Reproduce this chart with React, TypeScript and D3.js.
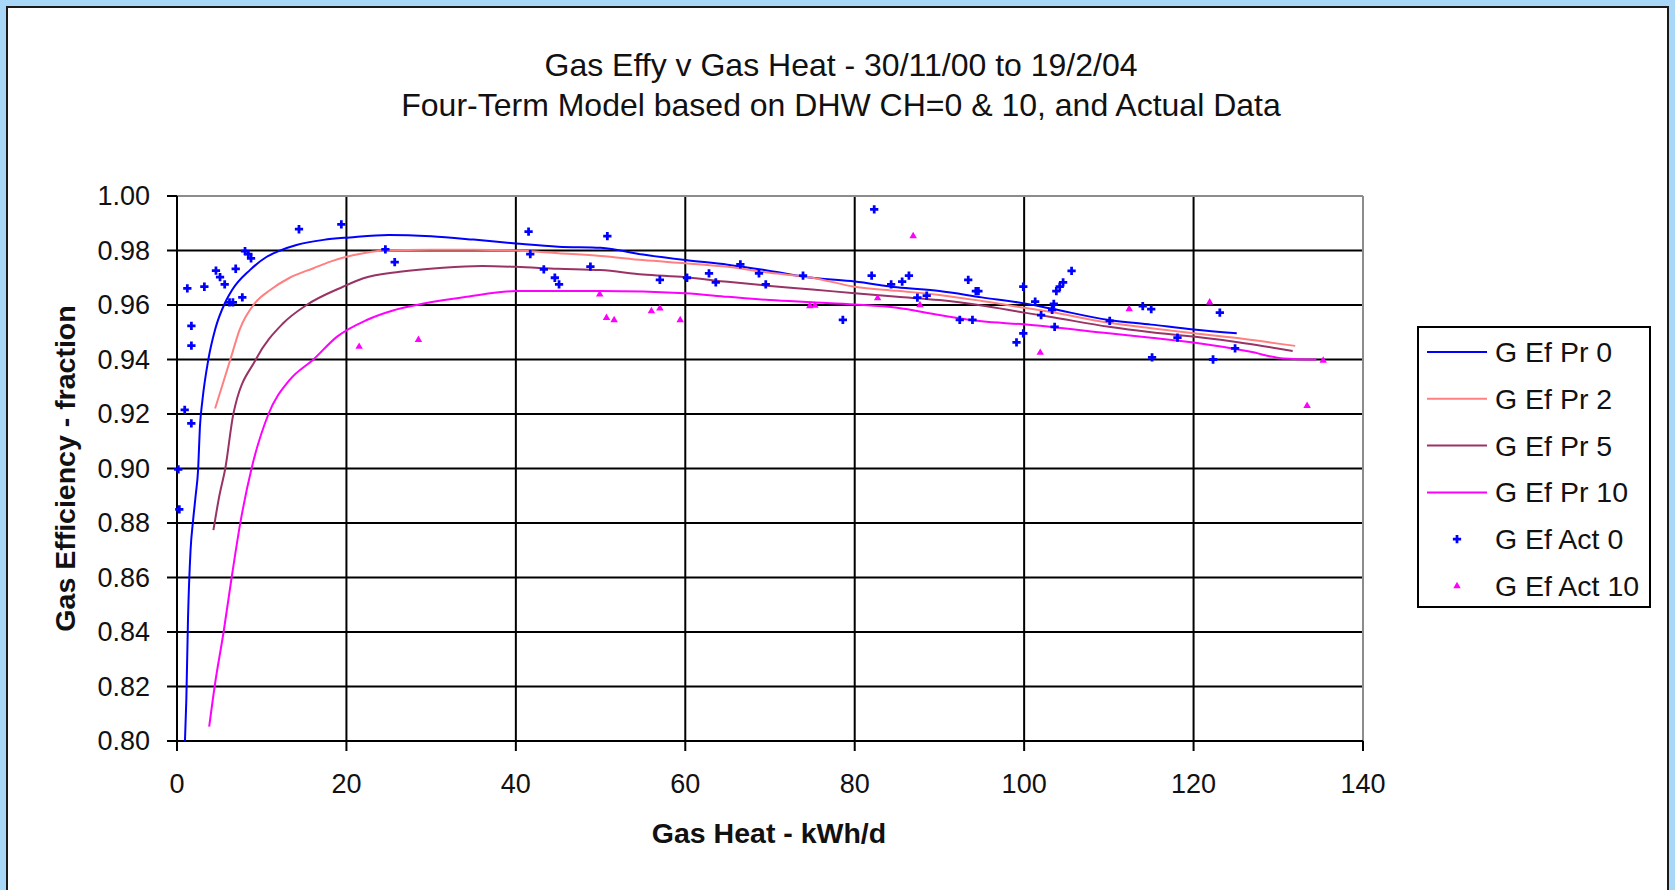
import React from 'react';
import * as d3 from 'd3';

// chart text
const title1 = "Gas Effy v Gas Heat - 30/11/00 to 19/2/04";
const title2 = "Four-Term Model based on DHW CH=0 & 10, and Actual Data";
const xTitle = "Gas Heat - kWh/d";
const yTitle = "Gas Efficiency - fraction";

const xTicks = [0, 20, 40, 60, 80, 100, 120, 140];
const yTicks = [0.8, 0.82, 0.84, 0.86, 0.88, 0.9, 0.92, 0.94, 0.96, 0.98, 1.0];

// model curves [gas heat, efficiency]
const pr0: [number, number][] = [
  [0.94, 0.8], [1.1, 0.815], [1.3, 0.845], [1.6, 0.87], [1.9, 0.881], [2.2, 0.89], [2.5, 0.9],
  [2.7, 0.915], [3.0, 0.925], [3.7, 0.94], [4.5, 0.951], [5.7, 0.961], [6.5, 0.9655], [8.6, 0.9728],
  [10.6, 0.9777], [12.2, 0.98], [14.1, 0.982], [17.3, 0.9839], [20.4, 0.9848], [25, 0.9857],
  [30, 0.9852], [35, 0.984], [40, 0.9826], [45, 0.9814], [50, 0.981], [55, 0.9785], [60, 0.9765],
  [65, 0.9748], [70, 0.9725], [75, 0.97], [80, 0.9686], [85, 0.9665], [90, 0.9651], [95, 0.9628],
  [100, 0.9606], [103, 0.9588], [110, 0.9545], [115, 0.9528], [120, 0.951], [125.1, 0.9496]
];
const pr2: [number, number][] = [
  [4.5, 0.922], [6.3, 0.94], [7.4, 0.951], [9.2, 0.9607], [11, 0.9655], [13.3, 0.97], [16.1, 0.9735],
  [18.1, 0.9759], [20, 0.9777], [22, 0.979], [24.3, 0.98], [30, 0.9803], [35, 0.9803], [40, 0.98],
  [45, 0.979], [50, 0.978], [55, 0.9765], [60, 0.9753], [65, 0.974], [70, 0.9718], [75, 0.97],
  [80, 0.9667], [85, 0.9652], [90, 0.9637], [95, 0.9615], [100, 0.959], [103, 0.9575], [110, 0.9535],
  [115, 0.9515], [120, 0.9496], [126, 0.9475], [132, 0.945]
];
const pr5: [number, number][] = [
  [4.3, 0.8774], [5.0, 0.89], [5.7, 0.9], [6.65, 0.92], [9.3, 0.94], [12.5, 0.9532], [15.3, 0.96],
  [19.6, 0.9667], [22, 0.9698], [26.3, 0.9722], [31.4, 0.9737], [36, 0.9743], [40, 0.974], [45, 0.9733],
  [50, 0.9728], [55, 0.9712], [60, 0.9702], [65, 0.9685], [70, 0.967], [75, 0.9657], [80, 0.9643],
  [85, 0.963], [90, 0.9618], [95, 0.9598], [100, 0.9572], [103, 0.9557], [110, 0.952], [115, 0.95],
  [120, 0.9484], [126, 0.946], [131.7, 0.9431]
];
const pr10: [number, number][] = [
  [3.8, 0.8053], [4.5, 0.8212], [5.5, 0.84], [6.45, 0.86], [7.5, 0.8805], [8.8, 0.9], [10.8, 0.92],
  [13.3, 0.9325], [16.1, 0.94], [18.9, 0.9484], [22.4, 0.9545], [25.5, 0.958], [28.3, 0.96], [34.2, 0.963],
  [40, 0.9651], [50, 0.9651], [60, 0.9643], [65, 0.963], [70, 0.9618], [75, 0.961], [80, 0.9602],
  [85, 0.959], [90, 0.9563], [95, 0.954], [100, 0.9529], [103, 0.952], [110, 0.9496], [115, 0.948],
  [120, 0.9462], [126.6, 0.9429], [130.6, 0.9404], [134.5, 0.94]
];

// actual data points
const act0: [number, number][] = [
  [0.15, 0.8997], [0.27, 0.885], [0.91, 0.9215], [1.69, 0.9166], [1.22, 0.9661], [1.7, 0.9523], [1.7, 0.9451],
  [3.23, 0.9667], [4.6, 0.9726], [5.08, 0.9702], [5.63, 0.9676], [6.2, 0.961], [6.6, 0.961], [6.93, 0.9733],
  [7.71, 0.9628], [8.03, 0.9798], [8.42, 0.9787], [8.74, 0.9771], [14.4, 0.9878], [19.4, 0.9896],
  [24.6, 0.9804], [25.7, 0.9757], [41.5, 0.9869], [41.7, 0.9787], [43.3, 0.9731], [44.6, 0.97], [45.1, 0.9676],
  [48.8, 0.9741], [50.8, 0.9853], [57.0, 0.9692], [60.2, 0.97], [62.8, 0.9716], [63.6, 0.9683], [66.5, 0.9749],
  [68.7, 0.9716], [69.5, 0.9676], [73.9, 0.9708], [78.6, 0.9545], [82.3, 0.9951], [82.0, 0.9708], [84.3, 0.9676],
  [85.6, 0.9686], [86.4, 0.9708], [87.4, 0.9627], [88.5, 0.9634], [93.4, 0.9692], [94.3, 0.9651], [94.6, 0.9651],
  [92.4, 0.9545], [93.9, 0.9545], [99.9, 0.9667], [99.9, 0.9496], [99.1, 0.9463], [101.3, 0.9612], [102.0, 0.9563],
  [103.3, 0.9582], [103.5, 0.9604], [103.6, 0.952], [103.8, 0.9651], [104.2, 0.9667], [104.6, 0.9683],
  [105.6, 0.9725], [110.1, 0.9542], [114.0, 0.9596], [115.0, 0.9585], [115.1, 0.9408], [118.1, 0.948],
  [122.3, 0.94], [123.1, 0.9572], [124.9, 0.9441]
];
const act10: [number, number][] = [
  [21.5, 0.9447], [28.5, 0.9472], [49.9, 0.9639], [50.7, 0.9553], [51.6, 0.9545], [56.0, 0.9578], [57.0, 0.9588],
  [59.4, 0.9545], [74.7, 0.9596], [75.3, 0.9598], [82.7, 0.9625], [86.9, 0.9853], [87.7, 0.96], [101.9, 0.9425],
  [112.4, 0.9585], [121.9, 0.961], [133.4, 0.923], [135.3, 0.9396]
];

const lineSeries = [
  { name: "G Ef Pr 0", color: "#0000ff", data: pr0 },
  { name: "G Ef Pr 2", color: "#ff8080", data: pr2 },
  { name: "G Ef Pr 5", color: "#993366", data: pr5 },
  { name: "G Ef Pr 10", color: "#ff00ff", data: pr10 },
];
const pointSeries = [
  { name: "G Ef Act 0", color: "#0000ff", data: act0, symbol: d3.symbolCross, size: 38 },
  { name: "G Ef Act 10", color: "#ff00ff", data: act10, symbol: d3.symbolTriangle, size: 24 },
];

const font = "'Liberation Sans', Arial, sans-serif";

const App = () => {
  const width = 1675;
  const height = 890;
  const plot = { left: 177, right: 1363, top: 196, bottom: 741 };

  const x = d3.scaleLinear().domain([0, 140]).range([plot.left, plot.right]);
  const y = d3.scaleLinear().domain([0.8, 1.0]).range([plot.bottom, plot.top]);

  const line = d3.line<[number, number]>()
    .x(d => x(d[0]))
    .y(d => y(d[1]))
    .curve(d3.curveMonotoneX);

  const legend = { x: 1418, y: 327, w: 232, h: 280, row0: 352, step: 46.8 };
  const allLegend = [...lineSeries.map(s => ({ ...s, kind: "line" })), ...pointSeries.map(s => ({ ...s, kind: "point" }))];

  return (
    <svg width={width} height={height} style={{ position: "absolute", left: 0, top: 0 }} fontFamily={font}>
      <rect x={0} y={0} width={width} height={height} fill="#a9d7f7" />
      <rect x={7} y={7} width={1661} height={900} fill="#ffffff" stroke="#1a1a1a" strokeWidth={2} />

      <text x={841} y={76} textAnchor="middle" fontSize={32} fill="#111">{title1}</text>
      <text x={841} y={116} textAnchor="middle" fontSize={32} fill="#111">{title2}</text>

      {/* grid */}
      {yTicks.filter(t => t > 0.8 && t < 1.0).map(t => (
        <line key={"gy" + t} x1={plot.left} x2={plot.right} y1={y(t)} y2={y(t)} stroke="#000" strokeWidth={2} />
      ))}
      {xTicks.filter(t => t > 0 && t < 140).map(t => (
        <line key={"gx" + t} x1={x(t)} x2={x(t)} y1={plot.top} y2={plot.bottom} stroke="#000" strokeWidth={2} />
      ))}
      <line x1={plot.left} x2={plot.right} y1={plot.top} y2={plot.top} stroke="#8c8c8c" strokeWidth={2} />
      <line x1={plot.right} x2={plot.right} y1={plot.top} y2={plot.bottom} stroke="#8c8c8c" strokeWidth={2} />

      {/* axes */}
      <line x1={plot.left} x2={plot.left} y1={plot.top} y2={plot.bottom} stroke="#000" strokeWidth={2} />
      <line x1={plot.left} x2={plot.right} y1={plot.bottom} y2={plot.bottom} stroke="#000" strokeWidth={2} />
      {yTicks.map(t => (
        <g key={"ty" + t}>
          <line x1={plot.left - 10} x2={plot.left} y1={y(t)} y2={y(t)} stroke="#000" strokeWidth={2} />
          <text x={150} y={y(t)} textAnchor="end" dominantBaseline="central" fontSize={27} fill="#111">{t.toFixed(2)}</text>
        </g>
      ))}
      {xTicks.map(t => (
        <g key={"tx" + t}>
          <line x1={x(t)} x2={x(t)} y1={plot.bottom} y2={plot.bottom + 10} stroke="#000" strokeWidth={2} />
          <text x={x(t)} y={793} textAnchor="middle" fontSize={27} fill="#111">{t}</text>
        </g>
      ))}
      <text x={769} y={843} textAnchor="middle" fontSize={28.5} fontWeight="bold" fill="#111">{xTitle}</text>
      <text transform={`translate(65,${(plot.top + plot.bottom) / 2}) rotate(-90)`} textAnchor="middle"
        dominantBaseline="central" fontSize={28.5} fontWeight="bold" fill="#111">{yTitle}</text>

      {/* model lines */}
      {lineSeries.map(s => (
        <path key={s.name} d={line(s.data) || ""} fill="none" stroke={s.color} strokeWidth={2} />
      ))}

      {/* actual points */}
      {pointSeries.map(s => (
        <g key={s.name}>
          {s.data.map((d, i) => (
            <path key={i} transform={`translate(${x(d[0])},${y(d[1])})`}
              d={d3.symbol().type(s.symbol).size(s.size)() || ""} fill={s.color} />
          ))}
        </g>
      ))}

      {/* legend */}
      <rect x={legend.x} y={legend.y} width={legend.w} height={legend.h} fill="#fff" stroke="#000" strokeWidth={2} />
      {allLegend.map((s: any, i) => {
        const ry = legend.row0 + i * legend.step;
        return (
          <g key={"lg" + s.name}>
            {s.kind === "line"
              ? <line x1={1427} x2={1487} y1={ry} y2={ry} stroke={s.color} strokeWidth={2} />
              : <path transform={`translate(1457,${ry})`} d={d3.symbol().type(s.symbol).size(s.size)() || ""} fill={s.color} />}
            <text x={1495} y={ry} dominantBaseline="central" fontSize={28.5} fill="#111">{s.name}</text>
          </g>
        );
      })}
    </svg>
  );
};

export default App;
